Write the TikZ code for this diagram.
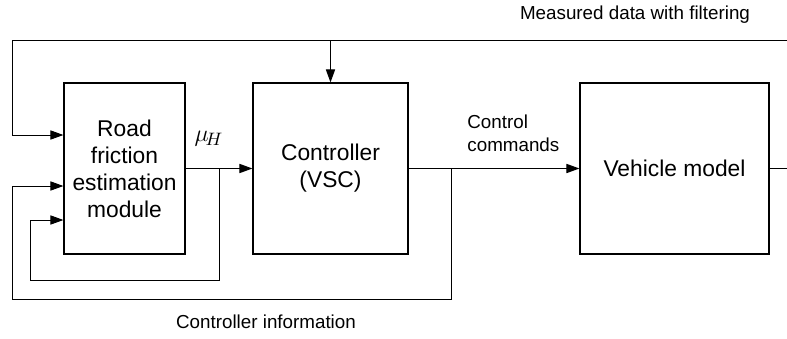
\documentclass[tikz,border=0pt]{standalone}
\usepackage{fontspec}
\setmainfont{Liberation Sans}
\usetikzlibrary{arrows.meta,positioning}

\tikzset{
  block/.style={draw, line width=0.6pt, align=center, inner sep=2pt,
    font=\fontsize{11.4}{13.5}\selectfont},
  lbl/.style={align=left, inner sep=0pt, font=\fontsize{9.4}{11.5}\selectfont},
  sig/.style={line width=0.5pt},
  arr/.style={sig, -{Triangle[length=6.5pt,width=4.6pt]}}
}

\begin{document}
\begin{tikzpicture}[x=0.5pt, y=-0.5pt]
  \useasboundingbox (0,0) rectangle (787,338);

  % blocks
  \node[block, minimum width=60.5pt, minimum height=85.5pt] (road) at (124.5,168.5)
    {Road\\friction\\estimation\\module};
  \node[block, minimum width=77.5pt, minimum height=85.5pt] (ctrl) at (330.5,168.5)
    {Controller\\(VSC)};
  \node[block, minimum width=94.5pt, minimum height=85.5pt] (veh) at (674.5,168.5)
    {Vehicle model};

  % levels of the inputs of the estimation module
  \coordinate (row1) at (0,135);
  \coordinate (row2) at (0,186);
  \coordinate (row3) at (0,220);

  % junctions and corners
  \coordinate (mujn) at (219,168.5);
  \coordinate (cmdjn) at (451,168.5);
  \coordinate (loopa) at (30,280);
  \coordinate (loopb) at (12,299);
  \coordinate (topl) at (12,40);
  \coordinate (topr) at (787,40);
  \coordinate (topjn) at (330.5,40);
  \coordinate (vehout) at (787,168.5);

  % forward path
  \draw[arr] (road.east) -- (ctrl.west);
  \draw[arr] (ctrl.east) -- (veh.west);
  \draw[sig] (veh.east) -- (vehout);

  % measured data
  \draw[sig] (topr) -- (topl);
  \draw[arr] (topl) |- (road.west |- row1);
  \draw[arr] (topjn) -- (ctrl.north);

  % controller information
  \draw[arr] (cmdjn) |- (loopb) |- (road.west |- row2);
  \draw[arr] (mujn) |- (loopa) |- (road.west |- row3);

  % labels
  \node[lbl, font=\fontsize{12.5}{14}\selectfont] (mulbl) at (209,139) {$\mu_{\!H}$};
  \node[lbl, anchor=west] (cmdlbl) at (467,133) {Control\\commands};
  \node[lbl] (measlbl) at (635,15) {Measured data with filtering};
  \node[lbl] (infolbl) at (266,322) {Controller information};
\end{tikzpicture}
\end{document}
